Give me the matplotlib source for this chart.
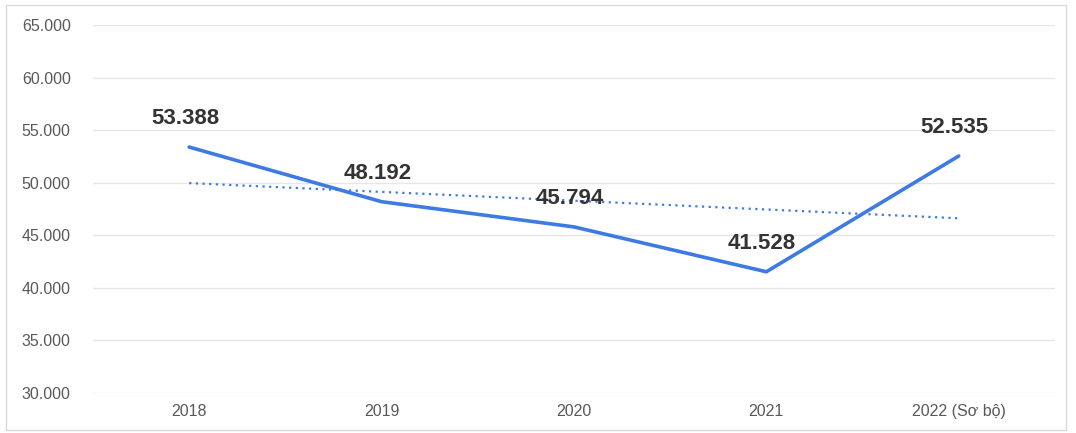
import numpy as np
import matplotlib
matplotlib.use("Agg")
import matplotlib.pyplot as plt
from matplotlib.patches import Rectangle
from matplotlib.ticker import FuncFormatter

plt.rcParams["font.family"] = ["Liberation Sans", "DejaVu Sans"]

# ── Data ─────────────────────────────────────────────────────────────────────
years = ["2018", "2019", "2020", "2021", "2022 (Sơ bộ)"]
values = [53388, 48192, 45794, 41528, 52535]
y_ticks = [30000, 35000, 40000, 45000, 50000, 55000, 60000, 65000]

BLUE = "#3d7ae3"
GREY_TEXT = "#595959"


def vn_fmt(v, _pos=None):
    # Vietnamese thousands separator: dot
    return f"{int(round(v)):,}".replace(",", ".")


fig = plt.figure(figsize=(10.76, 4.33), dpi=100)
ax = fig.add_axes([0.0864, 0.0924, 0.894, 0.850])

x = np.arange(len(years))
ax.plot(x, values, color=BLUE, linewidth=2.6, solid_capstyle="round", zorder=3)

# linear trendline, as in the source spreadsheet
coef = np.polyfit(x, values, 1)
ax.plot(x, np.polyval(coef, x), color=BLUE, linewidth=1.6,
        linestyle=(0, (1, 2)), zorder=2)

for xi, v in zip(x, values):
    ax.annotate(vn_fmt(v), (xi, v), xytext=(-3, 13), textcoords="offset points",
                ha="center", va="bottom", fontsize=16, fontweight="bold",
                color="#333333", zorder=4)

ax.set_xlim(-0.5, len(years) - 0.5)
ax.set_ylim(y_ticks[0], y_ticks[-1])
ax.set_yticks(y_ticks)
ax.yaxis.set_major_formatter(FuncFormatter(vn_fmt))
ax.set_xticks(x)
ax.set_xticklabels(years)
ax.tick_params(axis="both", length=0, labelsize=11.5, colors=GREY_TEXT)
ax.tick_params(axis="y", pad=16)
ax.tick_params(axis="x", pad=8)
ax.grid(axis="y", color="#e6e6e6", linewidth=1)
ax.set_axisbelow(True)
for s in ax.spines.values():
    s.set_visible(False)

# light frame around the whole chart
fig.patches.append(Rectangle((6 / 1076, 3 / 433), 1060 / 1076, 425 / 433,
                             transform=fig.transFigure, fill=False,
                             edgecolor="#d9d9d9", linewidth=1))

fig.savefig("out.png", dpi=100)
